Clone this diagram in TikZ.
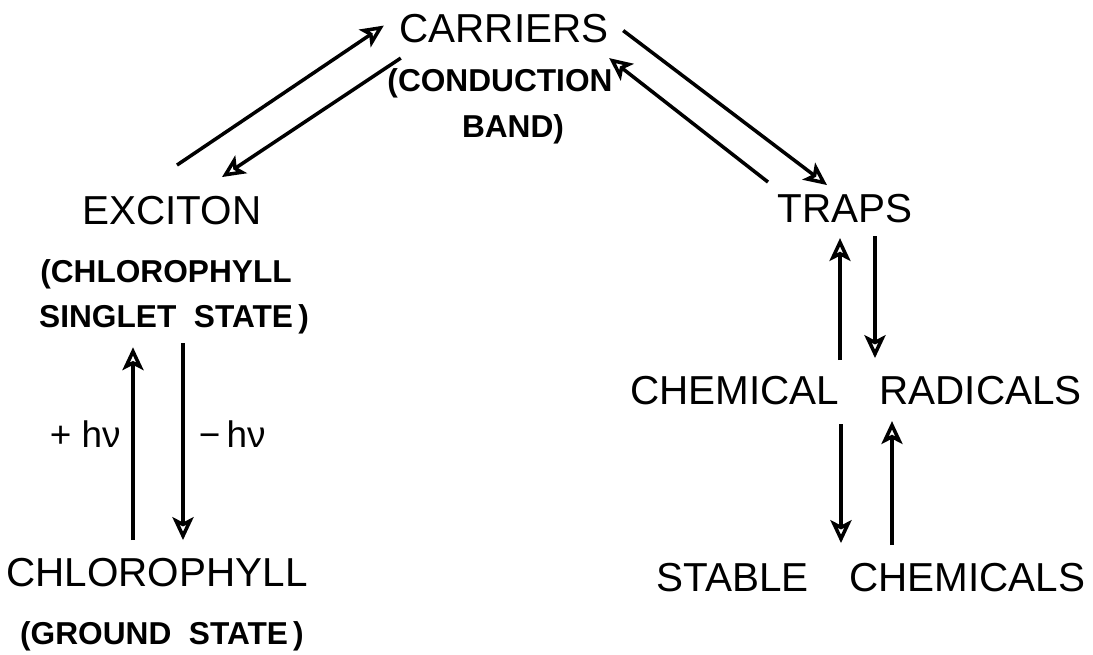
\documentclass[tikz,border=0pt]{standalone}
\usepackage{fontspec}
\setmainfont{Liberation Sans}
\usepackage{tikz}
\usetikzlibrary{arrows.meta}

\tikzset{
  mainlbl/.style={font=\fontsize{11.5}{13}\selectfont, inner sep=0pt, anchor=base},
  sublbl/.style={font=\bfseries\fontsize{9}{11}\selectfont, inner sep=0pt, anchor=base},
  hvlbl/.style={font=\fontsize{10.5}{12}\selectfont, inner sep=0pt},
  arr/.style={line width=1pt, -{Stealth[open,length=6.5pt,width=6pt,inset=1.5pt]}}
}

\begin{document}
\begin{tikzpicture}[x=0.01cm,y=-0.01cm]
    \useasboundingbox (0,0) rectangle (1093,655);
    % Labels
    \node[mainlbl] (car) at (504,43) {CARRIERS};
    \node[sublbl] (cond) at (500,92) {(CONDUCTION};
    \node[sublbl] (band) at (513,138) {BAND)};
    \node[mainlbl] (exc) at (172,225) {EXCITON};
    \node[sublbl] (exca) at (166,283) {(CHLOROPHYLL};
    \node[sublbl] (excb) at (174,328) {SINGLET\ \ STATE\,)};
    \node[mainlbl] (chl) at (157,587) {CHLOROPHYLL};
    \node[sublbl] (chla) at (162,645) {(GROUND\ \ STATE\,)};
    \node[mainlbl] (traps) at (845,223) {TRAPS};
    \node[mainlbl] (rad) at (856,405) {CHEMICAL\hspace{1em}RADICALS};
    \node[mainlbl] (stab) at (871,592) {STABLE\hspace{1em}CHEMICALS};
    % Exciton <-> carriers
    \draw[arr] ([shift={(5,-31)}]exc.north) -- ([shift={(-15,-3.5)}]car.west);
    \draw[arr] ([shift={(2,14)}]car.south west) -- ([shift={(50,-19)}]exc.north);
    % Carriers <-> traps
    \draw[arr] ([shift={(14,1.5)}]car.east) -- ([shift={(-18,-9)}]traps.north);
    \draw[arr] ([shift={(-77,-12)}]traps.north) -- ([shift={(0,14)}]car.south east);
    % Ground state <-> exciton
    \draw[arr] ([shift={(-24,-18)}]chl.north) -- ([shift={(-41,12)}]excb.south)
      node[hvlbl, pos=0.55, left=3pt] (hvin) {+ hν};
    \draw[arr] ([shift={(9,8)}]excb.south) -- ([shift={(26,-18)}]chl.north)
      node[hvlbl, pos=0.46, right=4pt] (hvout) {−\,hν};
    % Traps <-> radicals
    \draw[arr] ([shift={(-16,-16)}]rad.north) -- ([shift={(-5,14)}]traps.south);
    \draw[arr] ([shift={(30,12)}]traps.south) -- ([shift={(19,-18)}]rad.north);
    % Radicals <-> stable chemicals
    \draw[arr] ([shift={(-15,18)}]rad.south) -- ([shift={(-30,-20)}]stab.north);
    \draw[arr] ([shift={(21,-18)}]stab.north) -- ([shift={(36,15)}]rad.south);
\end{tikzpicture}
\end{document}
